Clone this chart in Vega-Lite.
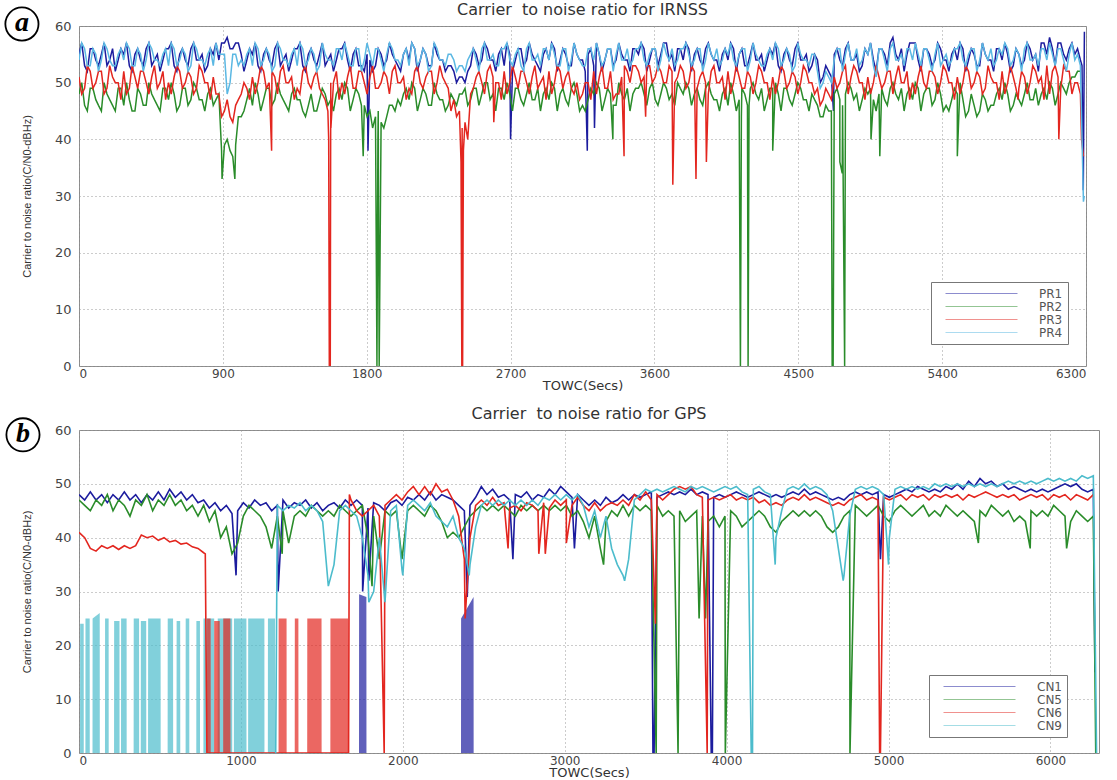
{
"$schema":"https://vega.github.io/schema/vega-lite/v6.json",
"background":"white",
"padding":{"left":1,"top":1,"right":5,"bottom":0},
"spacing":12,
"config":{
"view":{"stroke":"#8a8a8a","strokeWidth":1},
"font":"DejaVu Sans",
"axis":{"grid":true,"gridColor":"#999","gridDash":[1,3],"domain":false,"ticks":false,"labelFont":"DejaVu Sans","labelFontSize":13,"labelColor":"#444","titleFont":"DejaVu Sans","titleFontWeight":"normal","titleColor":"#333"},
"axisX":{"labelFontSize":12,"labelPadding":2,"titleFontSize":13,"titlePadding":0,"format":"d"},
"axisY":{"labelPadding":8,"titleFont":"Liberation Sans","titleFontSize":11,"titlePadding":22},
"title":{"font":"DejaVu Sans","fontSize":16,"fontWeight":"normal","color":"#333"},
"legend":{"title":null,"symbolType":"M-6,0H6","symbolSize":144,"symbolStrokeWidth":1,"symbolOpacity":0.5,"symbolOffset":39,"labelOffset":51,"labelFont":"DejaVu Sans","labelFontSize":12,"labelColor":"#555","strokeColor":"#777","fillColor":"#ffffff","padding":5,"rowPadding":0}
},
"resolve":{"scale":{"color":"independent"}},
"datasets":{
"irnss":[
{"t":0,"a":55,"b":48,"c":51,"d":54},{"t":35,"a":53,"b":46,"c":49,"d":56},{"t":70,"a":56,"b":49,"c":52,"d":53},{"t":105,"a":54,"b":47,"c":50,"d":55},{"t":140,"a":55,"b":45,"c":52,"d":54},{"t":175,"a":53,"b":48,"c":49,"d":56},{"t":210,"a":56,"b":46,"c":51,"d":53},{"t":245,"a":54,"b":49,"c":50,"d":55},{"t":280,"a":55,"b":46,"c":52,"d":54},{"t":315,"a":53,"b":47,"c":49,"d":56},
{"t":350,"a":55,"b":45,"c":51,"d":53},{"t":385,"a":54,"b":48,"c":52,"d":55},{"t":420,"a":56,"b":46,"c":50,"d":54},{"t":455,"a":53,"b":48,"c":51,"d":56},{"t":490,"a":55,"b":46,"c":49,"d":54},{"t":525,"a":54,"b":49,"c":52,"d":55},{"t":560,"a":56,"b":47,"c":50,"d":53},{"t":595,"a":53,"b":48,"c":51,"d":56},{"t":630,"a":55,"b":46,"c":52,"d":54},{"t":665,"a":54,"b":49,"c":50,"d":55},
{"t":700,"a":56,"b":47,"c":51,"d":53},{"t":735,"a":54,"b":49,"c":49,"d":56},{"t":770,"a":55,"b":47,"c":52,"d":54},{"t":805,"a":53,"b":48,"c":50,"d":55},{"t":840,"a":55,"b":46,"c":51,"d":53},{"t":875,"a":54,"b":48,"c":48,"d":55},{"t":910,"a":57,"b":39,"c":45,"d":55},{"t":945,"a":56,"b":38,"c":44,"d":50},{"t":980,"a":57,"b":39,"c":46,"d":55},{"t":1015,"a":55,"b":44,"c":48,"d":54},
{"t":1050,"a":54,"b":47,"c":49,"d":55},{"t":1085,"a":55,"b":46,"c":51,"d":53},{"t":1120,"a":53,"b":48,"c":50,"d":56},{"t":1155,"a":55,"b":47,"c":52,"d":54},{"t":1190,"a":54,"b":49,"c":50,"d":55},{"t":1225,"a":56,"b":47,"c":51,"d":53},{"t":1260,"a":53,"b":48,"c":52,"d":56},{"t":1295,"a":55,"b":46,"c":50,"d":54},{"t":1330,"a":54,"b":48,"c":51,"d":55},{"t":1365,"a":56,"b":47,"c":49,"d":53},
{"t":1400,"a":53,"b":45,"c":52,"d":56},{"t":1435,"a":55,"b":46,"c":50,"d":54},{"t":1470,"a":54,"b":45,"c":51,"d":55},{"t":1505,"a":55,"b":47,"c":49,"d":53},{"t":1540,"a":53,"b":48,"c":47,"d":55},{"t":1575,"a":55,"b":47,"c":50,"d":54},{"t":1610,"a":54,"b":48,"c":52,"d":56},{"t":1645,"a":56,"b":47,"c":50,"d":54},{"t":1680,"a":54,"b":49,"c":51,"d":55},{"t":1715,"a":55,"b":47,"c":49,"d":53},
{"t":1750,"a":53,"b":48,"c":52,"d":56},{"t":1785,"a":52,"b":46,"c":50,"d":54},{"t":1820,"a":54,"b":45,"c":51,"d":55},{"t":1855,"a":53,"b":44,"c":49,"d":56},{"t":1890,"a":55,"b":43,"c":50,"d":54},{"t":1925,"a":54,"b":44,"c":51,"d":55},{"t":1960,"a":55,"b":46,"c":52,"d":56},{"t":1995,"a":53,"b":47,"c":50,"d":54},{"t":2030,"a":55,"b":48,"c":51,"d":55},{"t":2065,"a":54,"b":47,"c":49,"d":53},
{"t":2100,"a":56,"b":49,"c":52,"d":56},{"t":2135,"a":54,"b":47,"c":50,"d":54},{"t":2170,"a":55,"b":48,"c":51,"d":55},{"t":2205,"a":53,"b":46,"c":52,"d":53},{"t":2240,"a":55,"b":48,"c":50,"d":56},{"t":2275,"a":54,"b":47,"c":51,"d":54},{"t":2310,"a":53,"b":46,"c":49,"d":55},{"t":2345,"a":52,"b":47,"c":47,"d":54},{"t":2380,"a":51,"b":48,"c":45,"d":53},{"t":2415,"a":50,"b":49,"c":43,"d":52},
{"t":2450,"a":53,"b":47,"c":48,"d":55},{"t":2485,"a":55,"b":49,"c":51,"d":54},{"t":2520,"a":54,"b":48,"c":50,"d":56},{"t":2555,"a":56,"b":50,"c":52,"d":54},{"t":2590,"a":54,"b":48,"c":51,"d":55},{"t":2625,"a":55,"b":49,"c":50,"d":53},{"t":2660,"a":53,"b":47,"c":52,"d":56},{"t":2695,"a":55,"b":48,"c":50,"d":54},{"t":2730,"a":54,"b":49,"c":51,"d":55},{"t":2765,"a":56,"b":47,"c":52,"d":53},
{"t":2800,"a":54,"b":48,"c":50,"d":56},{"t":2835,"a":55,"b":47,"c":51,"d":54},{"t":2870,"a":53,"b":49,"c":49,"d":55},{"t":2905,"a":55,"b":48,"c":51,"d":56},{"t":2940,"a":54,"b":47,"c":52,"d":54},{"t":2975,"a":56,"b":49,"c":50,"d":55},{"t":3010,"a":54,"b":48,"c":52,"d":53},{"t":3045,"a":55,"b":47,"c":51,"d":56},{"t":3080,"a":53,"b":49,"c":49,"d":54},{"t":3115,"a":55,"b":48,"c":50,"d":55},
{"t":3150,"a":54,"b":46,"c":48,"d":53},{"t":3185,"a":55,"b":47,"c":50,"d":56},{"t":3220,"a":53,"b":48,"c":52,"d":54},{"t":3255,"a":55,"b":49,"c":51,"d":55},{"t":3290,"a":54,"b":47,"c":49,"d":54},{"t":3325,"a":56,"b":48,"c":52,"d":56},{"t":3360,"a":54,"b":46,"c":48,"d":55},{"t":3395,"a":55,"b":48,"c":51,"d":54},{"t":3430,"a":54,"b":49,"c":52,"d":56},{"t":3465,"a":56,"b":48,"c":53,"d":54},
{"t":3500,"a":55,"b":49,"c":52,"d":56},{"t":3535,"a":56,"b":48,"c":51,"d":54},{"t":3570,"a":54,"b":49,"c":53,"d":55},{"t":3605,"a":56,"b":47,"c":51,"d":56},{"t":3640,"a":55,"b":48,"c":52,"d":54},{"t":3675,"a":57,"b":49,"c":50,"d":55},{"t":3710,"a":55,"b":48,"c":52,"d":56},{"t":3745,"a":56,"b":50,"c":51,"d":54},{"t":3780,"a":54,"b":48,"c":52,"d":56},{"t":3815,"a":56,"b":49,"c":50,"d":55},
{"t":3850,"a":55,"b":48,"c":52,"d":54},{"t":3885,"a":54,"b":47,"c":51,"d":56},{"t":3920,"a":56,"b":49,"c":50,"d":54},{"t":3955,"a":55,"b":48,"c":52,"d":55},{"t":3990,"a":54,"b":47,"c":50,"d":56},{"t":4025,"a":55,"b":48,"c":51,"d":54},{"t":4060,"a":54,"b":46,"c":52,"d":55},{"t":4095,"a":56,"b":48,"c":50,"d":54},{"t":4130,"a":55,"b":47,"c":51,"d":55},{"t":4165,"a":53,"b":48,"c":49,"d":56},
{"t":4200,"a":55,"b":49,"c":51,"d":54},{"t":4235,"a":54,"b":48,"c":50,"d":55},{"t":4270,"a":55,"b":49,"c":52,"d":53},{"t":4305,"a":54,"b":47,"c":50,"d":55},{"t":4340,"a":55,"b":49,"c":51,"d":54},{"t":4375,"a":53,"b":48,"c":50,"d":56},{"t":4410,"a":55,"b":49,"c":52,"d":54},{"t":4445,"a":54,"b":47,"c":50,"d":55},{"t":4480,"a":56,"b":48,"c":51,"d":53},{"t":4515,"a":54,"b":49,"c":50,"d":55},
{"t":4550,"a":55,"b":47,"c":52,"d":54},{"t":4585,"a":53,"b":48,"c":50,"d":55},{"t":4620,"a":54,"b":46,"c":49,"d":52},{"t":4655,"a":51,"b":44,"c":47,"d":50},{"t":4690,"a":52,"b":45,"c":48,"d":51},{"t":4725,"a":55,"b":48,"c":51,"d":54},{"t":4760,"a":54,"b":47,"c":50,"d":56},{"t":4795,"a":56,"b":48,"c":53,"d":55},{"t":4830,"a":54,"b":49,"c":51,"d":54},{"t":4865,"a":55,"b":48,"c":52,"d":56},
{"t":4900,"a":53,"b":47,"c":50,"d":54},{"t":4935,"a":55,"b":48,"c":51,"d":55},{"t":4970,"a":54,"b":47,"c":50,"d":53},{"t":5005,"a":56,"b":48,"c":51,"d":56},{"t":5040,"a":55,"b":47,"c":50,"d":54},{"t":5075,"a":57,"b":49,"c":52,"d":56},{"t":5110,"a":55,"b":48,"c":51,"d":54},{"t":5145,"a":56,"b":49,"c":50,"d":55},{"t":5180,"a":55,"b":48,"c":52,"d":56},{"t":5215,"a":57,"b":47,"c":50,"d":54},
{"t":5250,"a":54,"b":49,"c":51,"d":55},{"t":5285,"a":56,"b":48,"c":50,"d":56},{"t":5320,"a":55,"b":49,"c":52,"d":54},{"t":5355,"a":54,"b":47,"c":51,"d":55},{"t":5390,"a":56,"b":48,"c":50,"d":53},{"t":5425,"a":54,"b":46,"c":52,"d":55},{"t":5460,"a":55,"b":47,"c":50,"d":54},{"t":5495,"a":54,"b":48,"c":51,"d":56},{"t":5530,"a":56,"b":47,"c":50,"d":54},{"t":5565,"a":54,"b":45,"c":52,"d":55},
{"t":5600,"a":55,"b":46,"c":50,"d":56},{"t":5635,"a":53,"b":45,"c":51,"d":54},{"t":5670,"a":55,"b":47,"c":49,"d":55},{"t":5705,"a":54,"b":46,"c":51,"d":56},{"t":5740,"a":56,"b":48,"c":50,"d":54},{"t":5775,"a":54,"b":47,"c":52,"d":55},{"t":5810,"a":55,"b":48,"c":50,"d":56},{"t":5845,"a":53,"b":46,"c":51,"d":54},{"t":5880,"a":55,"b":47,"c":49,"d":55},{"t":5915,"a":54,"b":48,"c":51,"d":56},
{"t":5950,"a":56,"b":47,"c":50,"d":54},{"t":5985,"a":55,"b":49,"c":52,"d":55},{"t":6020,"a":57,"b":48,"c":51,"d":56},{"t":6055,"a":55,"b":47,"c":53,"d":54},{"t":6090,"a":56,"b":49,"c":52,"d":55},{"t":6125,"a":57,"b":48,"c":51,"d":56},{"t":6160,"a":55,"b":49,"c":53,"d":54},{"t":6195,"a":56,"b":50,"c":52,"d":55},{"t":6230,"a":55,"b":51,"c":50,"d":54},{"t":6265,"a":54,"b":52,"c":48,"d":53},
{"t":17,"a":57,"b":50,"c":48,"d":57},{"t":52,"a":52,"b":45,"c":53,"d":53},{"t":87,"a":56,"b":49,"c":49,"d":56},{"t":122,"a":53,"b":46,"c":52,"d":52},{"t":157,"a":57,"b":50,"c":48,"d":57},{"t":192,"a":54,"b":47,"c":53,"d":54},{"t":227,"a":52,"b":45,"c":50,"d":53},{"t":262,"a":56,"b":49,"c":47,"d":56},{"t":297,"a":57,"b":50,"c":48,"d":57},{"t":332,"a":52,"b":45,"c":53,"d":53},
{"t":367,"a":56,"b":49,"c":49,"d":56},{"t":402,"a":53,"b":46,"c":52,"d":52},{"t":437,"a":57,"b":50,"c":48,"d":57},{"t":472,"a":54,"b":47,"c":53,"d":54},{"t":507,"a":52,"b":45,"c":50,"d":53},{"t":542,"a":56,"b":49,"c":47,"d":56},{"t":577,"a":57,"b":50,"c":48,"d":57},{"t":612,"a":52,"b":45,"c":53,"d":53},{"t":647,"a":56,"b":49,"c":49,"d":56},{"t":682,"a":53,"b":46,"c":52,"d":52},
{"t":717,"a":57,"b":50,"c":48,"d":57},{"t":752,"a":54,"b":47,"c":53,"d":54},{"t":787,"a":52,"b":45,"c":50,"d":53},{"t":822,"a":56,"b":49,"c":47,"d":56},{"t":857,"a":57,"b":47,"c":48,"d":57},{"t":892,"a":57,"b":38,"c":44,"d":55},{"t":927,"a":58,"b":40,"c":47,"d":48},{"t":962,"a":56,"b":37,"c":43,"d":55},{"t":997,"a":57,"b":44,"c":47,"d":53},{"t":1032,"a":52,"b":45,"c":50,"d":53},
{"t":1067,"a":56,"b":49,"c":47,"d":56},{"t":1102,"a":57,"b":50,"c":48,"d":57},{"t":1137,"a":52,"b":45,"c":53,"d":53},{"t":1172,"a":56,"b":49,"c":49,"d":56},{"t":1207,"a":53,"b":46,"c":52,"d":52},{"t":1242,"a":57,"b":50,"c":48,"d":57},{"t":1277,"a":54,"b":47,"c":53,"d":54},{"t":1312,"a":52,"b":45,"c":50,"d":53},{"t":1347,"a":56,"b":49,"c":47,"d":56},{"t":1382,"a":57,"b":47,"c":48,"d":57},
{"t":1417,"a":52,"b":44,"c":53,"d":53},{"t":1452,"a":56,"b":48,"c":49,"d":56},{"t":1487,"a":53,"b":45,"c":52,"d":52},{"t":1522,"a":57,"b":49,"c":48,"d":57},{"t":1557,"a":54,"b":46,"c":45,"d":54},{"t":1592,"a":52,"b":45,"c":50,"d":53},{"t":1627,"a":56,"b":49,"c":47,"d":56},{"t":1662,"a":57,"b":50,"c":48,"d":57},{"t":1697,"a":52,"b":45,"c":53,"d":53},{"t":1732,"a":56,"b":49,"c":49,"d":56},
{"t":1767,"a":53,"b":46,"c":52,"d":52},{"t":1802,"a":55,"b":44,"c":48,"d":57},{"t":1837,"a":52,"b":42,"c":53,"d":53},{"t":1872,"a":56,"b":45,"c":49,"d":56},{"t":1907,"a":53,"b":42,"c":52,"d":52},{"t":1942,"a":57,"b":46,"c":48,"d":57},{"t":1977,"a":54,"b":45,"c":53,"d":54},{"t":2012,"a":52,"b":46,"c":50,"d":53},{"t":2047,"a":56,"b":49,"c":47,"d":56},{"t":2082,"a":57,"b":50,"c":48,"d":57},
{"t":2117,"a":52,"b":45,"c":53,"d":53},{"t":2152,"a":56,"b":49,"c":49,"d":56},{"t":2187,"a":53,"b":46,"c":52,"d":52},{"t":2222,"a":57,"b":50,"c":48,"d":57},{"t":2257,"a":54,"b":47,"c":53,"d":54},{"t":2292,"a":52,"b":45,"c":50,"d":53},{"t":2327,"a":53,"b":48,"c":45,"d":55},{"t":2362,"a":50,"b":46,"c":44,"d":52},{"t":2397,"a":51,"b":48,"c":42,"d":53},{"t":2432,"a":52,"b":46,"c":40,"d":54},
{"t":2467,"a":56,"b":49,"c":49,"d":56},{"t":2502,"a":53,"b":46,"c":52,"d":52},{"t":2537,"a":57,"b":50,"c":48,"d":57},{"t":2572,"a":54,"b":47,"c":53,"d":54},{"t":2607,"a":52,"b":45,"c":50,"d":53},{"t":2642,"a":56,"b":49,"c":47,"d":56},{"t":2677,"a":57,"b":50,"c":48,"d":57},{"t":2712,"a":52,"b":45,"c":53,"d":53},{"t":2747,"a":56,"b":49,"c":49,"d":56},{"t":2782,"a":53,"b":46,"c":52,"d":52},
{"t":2817,"a":57,"b":50,"c":48,"d":57},{"t":2852,"a":54,"b":47,"c":53,"d":54},{"t":2887,"a":52,"b":45,"c":50,"d":53},{"t":2922,"a":56,"b":49,"c":47,"d":56},{"t":2957,"a":57,"b":50,"c":48,"d":57},{"t":2992,"a":52,"b":45,"c":53,"d":53},{"t":3027,"a":56,"b":49,"c":49,"d":56},{"t":3062,"a":53,"b":46,"c":52,"d":52},{"t":3097,"a":57,"b":50,"c":48,"d":57},{"t":3132,"a":54,"b":45,"c":47,"d":54},
{"t":3167,"a":52,"b":45,"c":50,"d":53},{"t":3202,"a":56,"b":49,"c":47,"d":56},{"t":3237,"a":57,"b":50,"c":48,"d":57},{"t":3272,"a":52,"b":45,"c":53,"d":53},{"t":3307,"a":56,"b":49,"c":49,"d":56},{"t":3342,"a":53,"b":46,"c":47,"d":52},{"t":3377,"a":57,"b":50,"c":48,"d":57},{"t":3412,"a":54,"b":47,"c":53,"d":54},{"t":3447,"a":52,"b":45,"c":50,"d":53},{"t":3482,"a":56,"b":49,"c":53,"d":56},
{"t":3517,"a":57,"b":50,"c":50,"d":57},{"t":3552,"a":52,"b":46,"c":53,"d":53},{"t":3587,"a":56,"b":50,"c":50,"d":56},{"t":3622,"a":53,"b":46,"c":53,"d":52},{"t":3657,"a":57,"b":50,"c":50,"d":57},{"t":3692,"a":54,"b":47,"c":53,"d":54},{"t":3727,"a":52,"b":46,"c":50,"d":53},{"t":3762,"a":56,"b":49,"c":53,"d":56},{"t":3797,"a":57,"b":50,"c":49,"d":57},{"t":3832,"a":52,"b":46,"c":53,"d":53},
{"t":3867,"a":56,"b":49,"c":49,"d":56},{"t":3902,"a":53,"b":46,"c":52,"d":52},{"t":3937,"a":57,"b":50,"c":48,"d":57},{"t":3972,"a":54,"b":47,"c":53,"d":54},{"t":4007,"a":52,"b":45,"c":50,"d":53},{"t":4042,"a":56,"b":49,"c":47,"d":56},{"t":4077,"a":57,"b":50,"c":48,"d":57},{"t":4112,"a":52,"b":45,"c":53,"d":53},{"t":4147,"a":56,"b":49,"c":49,"d":56},{"t":4182,"a":53,"b":46,"c":52,"d":52},
{"t":4217,"a":57,"b":50,"c":48,"d":57},{"t":4252,"a":54,"b":47,"c":53,"d":54},{"t":4287,"a":52,"b":45,"c":50,"d":53},{"t":4322,"a":56,"b":49,"c":47,"d":56},{"t":4357,"a":57,"b":50,"c":48,"d":57},{"t":4392,"a":52,"b":45,"c":53,"d":53},{"t":4427,"a":56,"b":49,"c":49,"d":56},{"t":4462,"a":53,"b":46,"c":52,"d":52},{"t":4497,"a":57,"b":50,"c":48,"d":57},{"t":4532,"a":54,"b":47,"c":53,"d":54},
{"t":4567,"a":52,"b":45,"c":50,"d":53},{"t":4602,"a":55,"b":47,"c":48,"d":55},{"t":4637,"a":50,"b":44,"c":46,"d":49},{"t":4672,"a":53,"b":46,"c":49,"d":52},{"t":4707,"a":51,"b":45,"c":47,"d":50},{"t":4742,"a":56,"b":49,"c":49,"d":56},{"t":4777,"a":53,"b":46,"c":52,"d":52},{"t":4812,"a":57,"b":50,"c":48,"d":57},{"t":4847,"a":54,"b":47,"c":53,"d":54},{"t":4882,"a":52,"b":45,"c":50,"d":53},
{"t":4917,"a":56,"b":49,"c":47,"d":56},{"t":4952,"a":57,"b":49,"c":48,"d":57},{"t":4987,"a":52,"b":45,"c":53,"d":51},{"t":5022,"a":56,"b":49,"c":49,"d":56},{"t":5057,"a":53,"b":46,"c":52,"d":52},{"t":5092,"a":58,"b":50,"c":48,"d":57},{"t":5127,"a":54,"b":47,"c":53,"d":54},{"t":5162,"a":52,"b":45,"c":50,"d":53},{"t":5197,"a":57,"b":49,"c":47,"d":56},{"t":5232,"a":57,"b":50,"c":48,"d":57},
{"t":5267,"a":52,"b":45,"c":53,"d":53},{"t":5302,"a":56,"b":49,"c":49,"d":56},{"t":5337,"a":53,"b":46,"c":52,"d":52},{"t":5372,"a":57,"b":50,"c":48,"d":57},{"t":5407,"a":54,"b":45,"c":53,"d":54},{"t":5442,"a":52,"b":45,"c":50,"d":53},{"t":5477,"a":56,"b":49,"c":47,"d":56},{"t":5512,"a":57,"b":50,"c":48,"d":57},{"t":5547,"a":52,"b":44,"c":53,"d":53},{"t":5582,"a":56,"b":48,"c":49,"d":56},
{"t":5617,"a":53,"b":44,"c":52,"d":52},{"t":5652,"a":57,"b":48,"c":48,"d":57},{"t":5687,"a":54,"b":45,"c":53,"d":54},{"t":5722,"a":52,"b":46,"c":50,"d":53},{"t":5757,"a":56,"b":49,"c":47,"d":56},{"t":5792,"a":57,"b":50,"c":48,"d":57},{"t":5827,"a":52,"b":45,"c":53,"d":53},{"t":5862,"a":56,"b":48,"c":49,"d":56},{"t":5897,"a":53,"b":46,"c":52,"d":52},{"t":5932,"a":57,"b":50,"c":48,"d":57},
{"t":5967,"a":54,"b":47,"c":53,"d":54},{"t":6002,"a":52,"b":46,"c":50,"d":53},{"t":6037,"a":57,"b":49,"c":47,"d":56},{"t":6072,"a":58,"b":50,"c":48,"d":57},{"t":6107,"a":53,"b":46,"c":53,"d":53},{"t":6142,"a":57,"b":50,"c":49,"d":56},{"t":6177,"a":54,"b":48,"c":52,"d":52},{"t":6212,"a":57,"b":51,"c":48,"d":57},{"t":6247,"a":56,"b":52,"c":50,"d":55},
{"t":895,"b":33},{"t":975,"b":33},{"t":1205,"c":38},{"t":1562,"c":40},{"t":1566,"c":0},{"t":1572,"c":0},{"t":1576,"c":42},{"t":1778,"b":37},{"t":1808,"a":38},{"t":1864,"b":0},{"t":1870,"b":40},{"t":1878,"b":0},
{"t":2390,"c":36},{"t":2395,"c":0},{"t":2400,"c":0},{"t":2405,"c":38},{"t":2595,"c":43},{"t":2700,"a":40},{"t":3180,"a":38},{"t":3225,"a":42},{"t":3340,"b":40},{"t":3410,"c":37},{"t":3545,"c":44},{"t":3715,"c":32},{"t":3860,"c":33},{"t":3925,"c":36},
{"t":4138,"b":0},{"t":4144,"b":44},{"t":4186,"b":0},{"t":4192,"b":46},{"t":4340,"b":38},{"t":4712,"b":0},{"t":4718,"b":0},{"t":4720,"a":45},{"t":4760,"b":36},{"t":4775,"b":34},{"t":4790,"b":0},{"t":4955,"b":40},{"t":5010,"b":37},{"t":5495,"b":37},{"t":5875,"c":47},{"t":5970,"b":47},{"t":6130,"c":40},
{"t":6272,"c":40},{"t":6275,"a":53},{"t":6283,"a":31},{"t":6284,"c":37},{"t":6284,"d":29},{"t":6289,"d":30},{"t":6290,"a":59}
],
"gps":[
{"t":0,"a":48,"b":47,"c":41},{"t":35,"a":47,"b":46,"c":40},{"t":70,"a":48.5,"b":45,"c":38},{"t":105,"a":47,"b":47,"c":37.5},{"t":140,"a":48,"b":46,"c":38.5},{"t":175,"a":46.5,"b":48,"c":38},{"t":210,"a":48,"b":45,"c":38.5},{"t":245,"a":47,"b":47,"c":37.8},{"t":280,"a":48.5,"b":46,"c":38.5},{"t":315,"a":47,"b":44,"c":38},
{"t":350,"a":48,"b":47,"c":38.5},{"t":385,"a":46.5,"b":46,"c":40.5},{"t":420,"a":48,"b":48,"c":40},{"t":455,"a":47,"b":45,"c":40.3},{"t":490,"a":48.5,"b":47,"c":39.5},{"t":525,"a":47,"b":46,"c":40},{"t":560,"a":49,"b":48,"c":39.2},{"t":595,"a":47.5,"b":46,"c":39.5},{"t":630,"a":48.5,"b":47,"c":38.8},{"t":665,"a":47,"b":45,"c":39},
{"t":700,"a":48,"b":46,"c":38.3},{"t":735,"a":46.5,"b":44,"c":38},{"t":770,"a":47,"b":46,"c":37.2},{"t":805,"a":45.5,"b":43},{"t":840,"a":46.5,"b":45},{"t":875,"a":45,"b":40},{"t":910,"a":46,"b":42},{"t":945,"a":44.5,"b":37},{"t":980,"a":45,"b":39},{"t":1015,"a":46.5,"b":44},
{"t":1050,"a":45.5,"b":46},{"t":1085,"a":47,"b":45},{"t":1120,"a":46,"b":44},{"t":1155,"a":46.5,"b":42},{"t":1190,"a":45,"b":38},{"t":1225,"a":46,"b":44,"d":46},{"t":1260,"a":47,"b":45,"d":45},{"t":1295,"a":45.5,"b":39,"d":46},{"t":1330,"a":46.5,"b":44,"d":45.5},{"t":1365,"a":46,"b":45,"d":46.5},
{"t":1400,"a":47,"b":44,"d":45},{"t":1435,"a":45.5,"b":46,"d":46},{"t":1470,"a":46.5,"b":45,"d":45},{"t":1505,"a":45,"b":44,"d":43},{"t":1540,"a":46,"b":45,"d":31},{"t":1575,"a":46.5,"b":44,"d":35},{"t":1610,"a":45.5,"b":46,"d":45},{"t":1645,"a":47,"b":45,"d":46},{"t":1680,"a":46,"b":44,"c":47,"d":45},{"t":1715,"a":47,"b":45,"c":45,"d":44},
{"t":1750,"a":46,"b":46,"c":44,"d":40},{"t":1785,"a":45.5,"b":40,"c":45,"d":33},{"t":1820,"a":46.5,"b":44,"c":46,"d":30},{"t":1855,"a":46,"b":36,"c":44,"d":40},{"t":1890,"a":45,"b":45,"c":46,"d":28},{"t":1925,"a":46.5,"b":44,"c":47,"d":45},{"t":1960,"a":47,"b":45,"c":48,"d":46},{"t":1995,"a":46,"b":36,"c":47,"d":34},{"t":2030,"a":47.5,"b":45,"c":48.5,"d":46},{"t":2065,"a":47,"b":46,"c":49.5,"d":47},
{"t":2100,"a":48,"b":45,"c":48,"d":46},{"t":2135,"a":47,"b":44,"c":49.5,"d":45},{"t":2170,"a":48.5,"b":46,"c":48,"d":46.5},{"t":2205,"a":47,"b":45,"c":50,"d":44},{"t":2240,"a":48,"b":43,"c":48.5,"d":43},{"t":2275,"a":47.5,"b":40,"c":49,"d":42},{"t":2310,"a":47,"b":41,"c":47,"d":44},{"t":2345,"a":46,"b":40,"c":44,"d":40},{"t":2380,"a":45,"b":42,"c":36,"d":38},{"t":2415,"a":46,"b":44,"c":40,"d":35},
{"t":2450,"a":47.5,"b":45,"c":46,"d":42},{"t":2485,"a":49.5,"b":46,"c":47,"d":46},{"t":2520,"a":48,"b":45,"c":46,"d":47},{"t":2555,"a":49,"b":46,"c":47.5,"d":46},{"t":2590,"a":47.5,"b":45,"c":46,"d":47},{"t":2625,"a":48,"b":46,"c":46.5,"d":46},{"t":2660,"a":47,"b":45,"c":45.5,"d":47},{"t":2695,"a":48,"b":44,"c":46,"d":46},{"t":2730,"a":47.5,"b":46,"c":45,"d":47},{"t":2765,"a":48.5,"b":45,"c":46.5,"d":46},
{"t":2800,"a":47,"b":46,"c":46,"d":47},{"t":2835,"a":48,"b":45,"c":45,"d":46},{"t":2870,"a":47.5,"b":46,"c":46.5,"d":47.5},{"t":2905,"a":49,"b":45,"c":45.5,"d":47},{"t":2940,"a":48,"b":46,"c":47,"d":48},{"t":2975,"a":49.5,"b":45,"c":46,"d":47},{"t":3010,"a":48.5,"b":46,"c":47,"d":48},{"t":3045,"a":47.5,"b":44,"c":46,"d":47},{"t":3080,"a":48,"b":45,"c":47.5,"d":48},{"t":3115,"a":47,"b":43,"c":46,"d":46},
{"t":3150,"a":46,"b":40,"c":45,"d":42},{"t":3185,"a":47,"b":44,"c":46.5,"d":45},{"t":3220,"a":46,"b":38,"c":45,"d":40},{"t":3255,"a":47.5,"b":43,"c":46,"d":44},{"t":3290,"a":46.5,"b":45,"c":46.5,"d":38},{"t":3325,"a":47,"b":44,"c":46,"d":35},{"t":3360,"a":48,"b":46,"c":47,"d":33},{"t":3395,"a":47,"b":44,"c":46,"d":36},{"t":3430,"a":48,"b":46,"c":48,"d":47},{"t":3465,"a":47.5,"b":45,"c":47,"d":48},
{"t":3500,"a":48,"b":46,"c":48.5,"d":49},{"t":3535,"a":48.5,"b":45,"c":47,"d":48.5},{"t":3570,"a":47.5,"b":46,"c":48,"d":49},{"t":3605,"a":48,"b":44,"c":47,"d":48.5},{"t":3640,"a":48.5,"b":45,"c":48,"d":49},{"t":3675,"a":48,"b":44,"c":49,"d":49.5},{"t":3710,"a":48.5,"b":45,"c":49.5,"d":49},{"t":3745,"a":48,"b":43,"c":49,"d":48.5},{"t":3780,"a":49,"b":44,"c":49.5,"d":49.5},{"t":3815,"a":48,"b":45,"c":48,"d":49},
{"t":3850,"a":48.5,"b":44,"c":47.5,"d":49.5},{"t":3885,"a":48,"b":43,"c":47,"d":49},{"t":3920,"a":47.5,"b":44,"c":47.5,"d":48.5},{"t":3955,"a":48,"b":42,"c":47,"d":49},{"t":3990,"a":47.5,"b":44,"c":47.5,"d":49.5},{"t":4025,"a":48,"b":45,"c":48,"d":49},{"t":4060,"a":48.5,"b":44,"c":47,"d":49.5},{"t":4095,"a":48,"b":42,"c":47.5,"d":48.5},{"t":4130,"a":47.5,"b":43,"c":47,"d":48},{"t":4165,"a":48,"b":44,"c":47.5,"d":49},
{"t":4200,"a":48.5,"b":45,"c":46.5,"d":49.5},{"t":4235,"a":48,"b":44,"c":47,"d":48.5},{"t":4270,"a":47.5,"b":42,"c":46,"d":48},{"t":4305,"a":48,"b":41,"c":46.5,"d":40},{"t":4340,"a":47.5,"b":43,"c":46,"d":45},{"t":4375,"a":48,"b":44,"c":47,"d":49},{"t":4410,"a":48.5,"b":45,"c":47.5,"d":49.5},{"t":4445,"a":48,"b":44,"c":47,"d":49},{"t":4480,"a":49,"b":45,"c":48,"d":50},{"t":4515,"a":48,"b":44,"c":47,"d":49},
{"t":4550,"a":48.5,"b":45,"c":47.5,"d":49.5},{"t":4585,"a":48,"b":44,"c":47,"d":49},{"t":4620,"a":47.5,"b":42,"c":46.5,"d":48},{"t":4655,"a":47,"b":41,"c":46,"d":45},{"t":4690,"a":47.5,"b":42,"c":46.5,"d":38},{"t":4725,"a":47,"b":44,"c":46,"d":33},{"t":4760,"a":48,"b":45,"c":47,"d":44},{"t":4795,"a":48.5,"b":46,"c":47.5,"d":49},{"t":4830,"a":48,"b":45,"c":48,"d":49.5},{"t":4865,"a":48.5,"b":44,"c":47,"d":49},
{"t":4900,"a":48,"b":45,"c":47.5,"d":49.5},{"t":4935,"a":48.5,"b":46,"c":47,"d":49},{"t":4970,"a":48,"b":44,"c":47.5,"d":48},{"t":5005,"a":47.5,"b":43,"c":47,"d":40},{"t":5040,"a":48,"b":45,"c":47.5,"d":49},{"t":5075,"a":48.5,"b":46,"c":48,"d":49.5},{"t":5110,"a":49,"b":45,"c":47,"d":49},{"t":5145,"a":48.5,"b":44,"c":48,"d":49.5},{"t":5180,"a":49.5,"b":45,"c":47.5,"d":49},{"t":5215,"a":49,"b":46,"c":48,"d":49.5},
{"t":5250,"a":48.5,"b":44,"c":47,"d":49},{"t":5285,"a":49,"b":45,"c":48,"d":50},{"t":5320,"a":48.5,"b":44,"c":47.5,"d":49.5},{"t":5355,"a":49.5,"b":46,"c":48,"d":50},{"t":5390,"a":49,"b":45,"c":47.5,"d":49.5},{"t":5425,"a":50,"b":44,"c":48,"d":50},{"t":5460,"a":49,"b":45,"c":47,"d":49.5},{"t":5495,"a":50.5,"b":44,"c":48,"d":50},{"t":5530,"a":49.5,"b":43,"c":47.5,"d":49.5},{"t":5565,"a":51,"b":45,"c":48,"d":50},
{"t":5600,"a":50,"b":44,"c":48.5,"d":49.5},{"t":5635,"a":50.5,"b":46,"c":48,"d":50},{"t":5670,"a":49.5,"b":45,"c":47.5,"d":49.5},{"t":5705,"a":50,"b":44,"c":48,"d":50},{"t":5740,"a":49,"b":45,"c":47.5,"d":50.5},{"t":5775,"a":49.5,"b":43,"c":48,"d":50},{"t":5810,"a":49,"b":44,"c":47,"d":50.5},{"t":5845,"a":48.5,"b":43,"c":47.5,"d":50},{"t":5880,"a":49,"b":45,"c":48,"d":50.5},{"t":5915,"a":48.5,"b":44,"c":47.5,"d":50},
{"t":5950,"a":49,"b":45,"c":48,"d":50.5},{"t":5985,"a":48.5,"b":44,"c":47,"d":51},{"t":6020,"a":49,"b":46,"c":48,"d":50.5},{"t":6055,"a":49.5,"b":45,"c":47.5,"d":51},{"t":6090,"a":50,"b":44,"c":48,"d":50.5},{"t":6125,"a":49.5,"b":43,"c":47,"d":51},{"t":6160,"a":50,"b":45,"c":48,"d":50.5},{"t":6195,"a":49,"b":44,"c":47.5,"d":51.5},{"t":6230,"a":48.5,"b":43,"c":47,"d":51},{"t":6265,"a":49,"b":44,"c":48,"d":51.5},
{"t":970,"a":33},{"t":1230,"a":30},{"t":1752,"a":30},{"t":1790,"a":32},{"t":2398,"a":29},{"t":2680,"a":36},{"t":3060,"a":38},{"t":3545,"a":0},{"t":3552,"a":0},{"t":3905,"a":0},{"t":3912,"a":0},{"t":4950,"a":36},{"t":6275,"a":15},
{"t":1255,"b":37},{"t":1810,"b":31},{"t":3240,"b":35},{"t":3565,"b":0},{"t":3700,"b":0},{"t":3830,"b":25},{"t":3870,"b":25},{"t":3992,"b":0},{"t":4762,"b":0},{"t":5555,"b":39},{"t":5875,"b":38},{"t":6100,"b":38},{"t":6280,"b":0},
{"t":780,"c":37},{"t":790,"c":0},{"t":1665,"c":0},{"t":1670,"c":48},{"t":1885,"c":0},{"t":2385,"c":25},{"t":2650,"c":38},{"t":2840,"c":37},{"t":2880,"c":37},{"t":3010,"c":39},{"t":3560,"c":24},{"t":3880,"c":0},{"t":4945,"c":0},{"t":4950,"c":0},
{"t":1215,"d":0},{"t":1790,"d":28},{"t":2000,"d":33},{"t":2410,"d":33},{"t":3370,"d":32},{"t":4152,"d":0},{"t":4160,"d":0},{"t":4300,"d":35},{"t":4720,"d":32},{"t":5000,"d":35},{"t":6285,"d":0}
],
"gpsbars":[
{"s":"d","t":6.5,"v":0},{"s":"d","t":7,"v":24},{"s":"d","t":29,"v":24},{"s":"d","t":29.5,"v":0},
{"s":"d","t":39.5,"v":0},{"s":"d","t":40,"v":25},{"s":"d","t":66,"v":25},{"s":"d","t":66.5,"v":0},
{"s":"d","t":83.5,"v":0},{"s":"d","t":84,"v":25},{"s":"d","t":128,"v":26},{"s":"d","t":128.5,"v":0},
{"s":"d","t":160.5,"v":0},{"s":"d","t":161,"v":25},{"s":"d","t":183,"v":25},{"s":"d","t":183.5,"v":0},
{"s":"d","t":216.5,"v":0},{"s":"d","t":217,"v":24.5},{"s":"d","t":250,"v":24.5},{"s":"d","t":250.5,"v":0},
{"s":"d","t":259.5,"v":0},{"s":"d","t":260,"v":25},{"s":"d","t":294,"v":25},{"s":"d","t":294.5,"v":0},
{"s":"d","t":337.5,"v":0},{"s":"d","t":338,"v":25},{"s":"d","t":371,"v":25},{"s":"d","t":371.5,"v":0},
{"s":"d","t":381.5,"v":0},{"s":"d","t":382,"v":24.5},{"s":"d","t":415,"v":24.5},{"s":"d","t":415.5,"v":0},
{"s":"d","t":426.5,"v":0},{"s":"d","t":427,"v":25},{"s":"d","t":504,"v":25},{"s":"d","t":504.5,"v":0},
{"s":"d","t":547.5,"v":0},{"s":"d","t":548,"v":25},{"s":"d","t":581,"v":25},{"s":"d","t":581.5,"v":0},
{"s":"d","t":602.5,"v":0},{"s":"d","t":603,"v":24.5},{"s":"d","t":625,"v":24.5},{"s":"d","t":625.5,"v":0},
{"s":"d","t":658.5,"v":0},{"s":"d","t":659,"v":25},{"s":"d","t":681,"v":25},{"s":"d","t":681.5,"v":0},
{"s":"d","t":724.5,"v":0},{"s":"d","t":725,"v":24.5},{"s":"d","t":747,"v":24.5},{"s":"d","t":747.5,"v":0},
{"s":"d","t":768.5,"v":0},{"s":"d","t":769,"v":25},{"s":"d","t":835,"v":25},{"s":"d","t":835.5,"v":0},
{"s":"d","t":856.5,"v":0},{"s":"d","t":857,"v":25},{"s":"d","t":946,"v":25},{"s":"d","t":946.5,"v":0},
{"s":"d","t":956.5,"v":0},{"s":"d","t":957,"v":25},{"s":"d","t":1034,"v":25},{"s":"d","t":1034.5,"v":0},
{"s":"d","t":1044.5,"v":0},{"s":"d","t":1045,"v":25},{"s":"d","t":1145,"v":25},{"s":"d","t":1145.5,"v":0},
{"s":"d","t":1166.5,"v":0},{"s":"d","t":1167,"v":25},{"s":"d","t":1211,"v":25},{"s":"d","t":1211.5,"v":0},
{"s":"c","t":790.5,"v":0},{"s":"c","t":791,"v":25},{"s":"c","t":813,"v":25},{"s":"c","t":813.5,"v":0},
{"s":"c","t":834.5,"v":0},{"s":"c","t":835,"v":24.5},{"s":"c","t":869,"v":24.5},{"s":"c","t":869.5,"v":0},
{"s":"c","t":890.5,"v":0},{"s":"c","t":891,"v":25},{"s":"c","t":935,"v":25},{"s":"c","t":935.5,"v":0},
{"s":"c","t":1232.5,"v":0},{"s":"c","t":1233,"v":25},{"s":"c","t":1282,"v":25},{"s":"c","t":1282.5,"v":0},
{"s":"c","t":1332.5,"v":0},{"s":"c","t":1333,"v":25},{"s":"c","t":1355,"v":25},{"s":"c","t":1355.5,"v":0},
{"s":"c","t":1409.5,"v":0},{"s":"c","t":1410,"v":25},{"s":"c","t":1498,"v":25},{"s":"c","t":1498.5,"v":0},
{"s":"c","t":1552.5,"v":0},{"s":"c","t":1553,"v":25},{"s":"c","t":1664,"v":25},{"s":"c","t":1664.5,"v":0},
{"s":"a","t":1729.5,"v":0},{"s":"a","t":1730,"v":29.5},{"s":"a","t":1775,"v":29},{"s":"a","t":1775.5,"v":0},
{"s":"a","t":2359.5,"v":0},{"s":"a","t":2360,"v":25},{"s":"a","t":2437,"v":29},{"s":"a","t":2437.5,"v":0}
]
},
"vconcat":[
{
"width":1007,"height":340,
"title":{"text":"Carrier\u00a0 to noise ratio for IRNSS","offset":-14},
"data":{"name":"irnss"},
"layer":[
{"transform":[{"fold":["a","b","c","d"],"as":["s","v"]},{"filter":"isValid(datum.v)"}],
"mark":{"type":"line","strokeWidth":1.5,"clip":true},
"encoding":{
"x":{"field":"t","type":"quantitative","scale":{"domain":[0,6300],"nice":false,"zero":false},"axis":{"values":[0,900,1800,2700,3600,4500,5400,6300],"title":"TOWC(Secs)"}},
"y":{"field":"v","type":"quantitative","scale":{"domain":[0,60],"nice":false},"axis":{"values":[0,10,20,30,40,50,60],"title":"Carrier to noise ratio(C/N0-dBHz)"}},
"color":{"field":"s","type":"nominal","scale":{"domain":["a","b","c","d"],"range":["#1c1c9e","#2a8c2a","#e3261f","#5bb8e3"]},
"legend":{"orient":"none","legendX":852,"legendY":256,"labelExpr":"datum.label=='a'?'PR1':datum.label=='b'?'PR2':datum.label=='c'?'PR3':'PR4'"}}}},
{"data":{"values":[{}]},"mark":{"type":"point","shape":"circle","size":1100,"stroke":"#000","strokeWidth":1.8,"filled":false,"opacity":1},"encoding":{"x":{"datum":-357},"y":{"datum":60.35}}},
{"data":{"values":[{}]},"mark":{"type":"text","text":"a","font":"Liberation Serif","fontStyle":"italic","fontWeight":"bold","fontSize":28,"baseline":"middle","align":"center","dy":-1,"color":"#000"},"encoding":{"x":{"datum":-357},"y":{"datum":60.35}}}
]
},
{
"width":1020,"height":323,
"title":{"text":"Carrier\u00a0 to noise ratio for GPS","offset":-7},
"layer":[
{"data":{"name":"gpsbars"},"mark":{"type":"area","opacity":0.7,"clip":true},
"encoding":{
"x":{"field":"t","type":"quantitative","scale":{"domain":[0,6300],"nice":false,"zero":false},"axis":{"values":[0,1000,2000,3000,4000,5000,6000],"title":"TOWC(Secs)"}},
"y":{"field":"v","type":"quantitative","stack":null,"scale":{"domain":[0,60],"nice":false},"axis":{"values":[0,10,20,30,40,50,60],"title":"Carrier to noise ratio(C/N0-dBHz)"}},
"color":{"field":"s","type":"nominal","scale":{"domain":["a","b","c","d"],"range":["#1c1c9e","#2a8c2a","#e3261f","#4cbccc"]},
"legend":{"orient":"none","legendX":850,"legendY":245,"labelExpr":"datum.label=='a'?'CN1':datum.label=='b'?'CN5':datum.label=='c'?'CN6':'CN9'"}}}},
{"data":{"name":"gps"},"transform":[{"fold":["a","b","c","d"],"as":["s","v"]},{"filter":"isValid(datum.v)"}],
"mark":{"type":"line","strokeWidth":1.6,"clip":true},
"encoding":{
"x":{"field":"t","type":"quantitative"},
"y":{"field":"v","type":"quantitative"},
"color":{"field":"s","type":"nominal",
"legend":{"orient":"none","legendX":850,"legendY":245,"labelExpr":"datum.label=='a'?'CN1':datum.label=='b'?'CN5':datum.label=='c'?'CN6':'CN9'"}}}},
{"data":{"values":[{}]},"mark":{"type":"point","shape":"circle","size":1100,"stroke":"#000","strokeWidth":1.8,"filled":false,"opacity":1},"encoding":{"x":{"datum":-346},"y":{"datum":59.1}}},
{"data":{"values":[{}]},"mark":{"type":"text","text":"b","font":"Liberation Serif","fontStyle":"italic","fontWeight":"bold","fontSize":28,"baseline":"middle","align":"center","dy":-1,"color":"#000"},"encoding":{"x":{"datum":-346},"y":{"datum":59.1}}}
]
}
]
}
